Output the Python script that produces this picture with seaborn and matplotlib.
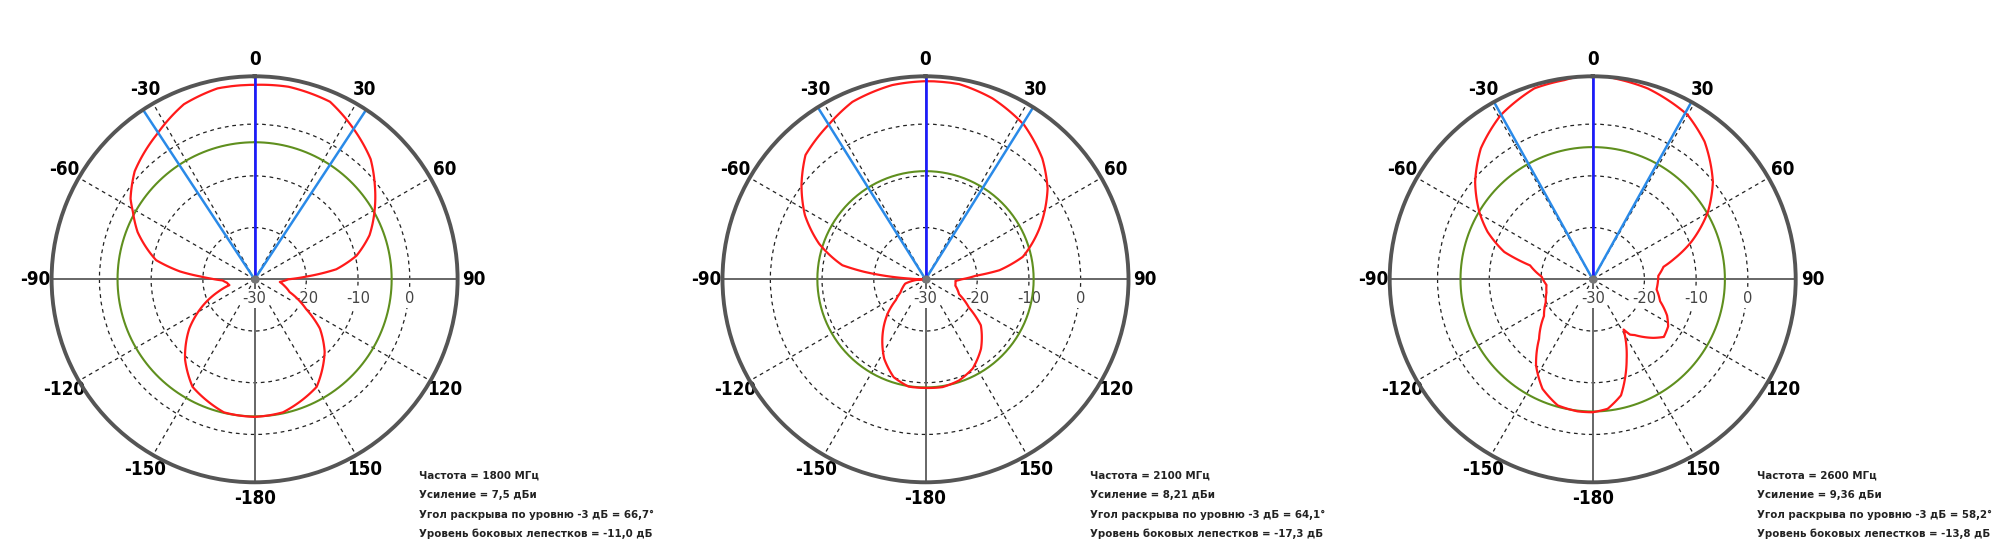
import numpy as np
import pandas as pd
import matplotlib
matplotlib.use("Agg")
import matplotlib.pyplot as plt
import seaborn as sns
from matplotlib.transforms import ScaledTranslation

# ---------------- data ----------------
freqs = [1800, 2100, 2600]
gains = [7.5, 8.21, 9.36]
hpbw = [66.7, 64.1, 58.2]
sll = [-11.0, -17.3, -13.8]

ang_1800 = [-180, -167, -150, -139, -127, -115, -109, -103, -97, -92, -89, -87, -84, -79,
            -68, -61, -57, -48, -34, -22, -11, 0, 10, 23, 33, 44, 52, 60, 69, 77, 83, 87,
            90, 96, 103, 110, 120, 127, 136, 150, 168, 180]
db_1800 = [-3.4, -3.6, -6.0, -9.5, -14.2, -19.7, -22.5, -25.0, -24.6, -23.8, -21.5, -19.5,
           -15.5, -10.6, -5.6, -3.1, -1.4, 1.2, 3.8, 6.5, 7.6, 7.6, 7.8, 7.3, 4.9, 2.3,
           -0.5, -3.2, -6.2, -9.8, -14.1, -20.0, -23.5, -25.1, -24.0, -22.8, -18.5,
           -14.2, -10.5, -6.0, -3.7, -3.4]

ang_2100 = [-180, -171, -162, -152.5, -144, -132, -125, -118, -110, -102, -95, -90, -87.5,
            -85, -83, -80.4, -71.5, -62, -52.8, -44, -31.9, -22.4, -9.7, 0, 9.8, 20.3,
            32.6, 44, 53.4, 66, 77, 83, 86, 90, 93, 102, 114, 123, 129.7, 141.4, 152,
            161.6, 171, 180]
db_2100 = [-9.0, -9.0, -10.1, -12.7, -15.8, -20.2, -23.0, -24.5, -25.3, -26.0, -28.0,
           -29.5, -27.0, -22.0, -18.0, -13.7, -8.3, -3.6, 0.1, 3.4, 5.3, 7.1, 8.1, 8.3,
           8.3, 7.3, 5.4, 2.5, -0.6, -5.9, -10.7, -15.6, -20.3, -23.0, -24.2, -24.1,
           -22.9, -20.0, -16.1, -12.8, -10.5, -9.4, -8.9, -9.0]

ang_2600 = [-180, -173.5, -164.5, -155.4, -146.6, -138, -127, -116, -106, -97, -87, -77.5,
            -72.8, -65.7, -59.3, -50.4, -40.5, -29.2, -17, -8.1, -3, 0, 4, 7.1, 16.1, 30,
            39.1, 51, 59.7, 69.2, 75.8, 80, 87, 99, 108, 116, 122, 129, 134, 143, 146,
            148.4, 150.3, 152, 157, 159.5, 166.3, 173.4, 180]
db_2600 = [-4.3, -4.3, -4.7, -6.7, -10.1, -14.5, -18.2, -19.9, -20.7, -21.0, -20.1, -17.6,
           -12.1, -7.7, -4.5, -0.5, 3.3, 6.4, 8.6, 8.9, 9.4, 9.5, 9.3, 9.0, 8.4, 6.7, 4.3,
           -0.1, -4.2, -9.6, -13.7, -16.1, -17.3, -17.5, -16.3, -14.0, -12.8, -12.3,
           -13.7, -16.5, -17.1, -18.6, -17.4, -16.3, -13.2, -11.5, -6.9, -4.8, -4.3]

patterns = [(ang_1800, db_1800), (ang_2100, db_2100), (ang_2600, db_2600)]

angle_ticks = [0, 30, 60, 90, 120, 150, 180, 210, 240, 270, 300, 330]
angle_labels = ["0", "30", "60", "90", "120", "150", "-180", "-150", "-120", "-90", "-60", "-30"]
ring_ticks = [-30, -20, -10, 0]
r_min, r_max = -30, 9.25

# ---------------- style ----------------
sns.set_style("white")
plt.rcParams["font.family"] = ["DejaVu Sans"]

RED = "#ff1a1a"
GREEN = "#5f8f1e"
BLUE = "#1a1aff"
LBLUE = "#2a8ae8"
GRAY = "#555555"

W, H = 2000, 560
R = 203
cy = 279.3
centers = [254.6, 925.5, 1592.7]

fig = plt.figure(figsize=(W / 100, H / 100), dpi=100)
fig.patch.set_facecolor("white")

full_circle = np.linspace(0, 2 * np.pi, 361)

for i, cx in enumerate(centers):
    ax = fig.add_axes([(cx - R) / W, (H - cy - R) / H, 2 * R / W, 2 * R / H],
                      projection="polar")
    ax.set_theta_zero_location("N")
    ax.set_theta_direction(-1)
    ax.set_ylim(r_min, r_max)
    ax.set_facecolor("white")

    # theta ticks / labels
    ax.set_xticks(np.deg2rad(angle_ticks))
    ax.set_xticklabels(angle_labels, fontfamily="DejaVu Sans", fontstretch="condensed",
                       fontweight="bold", fontsize=13.5, color="black")
    ax.tick_params(axis="x", pad=5, length=0)
    ax.xaxis.grid(False)

    # rings
    ax.set_yticks(ring_ticks[1:])
    ax.set_yticklabels([])
    ax.yaxis.grid(True, color="#222222", linestyle=(0, (3, 3)), linewidth=0.9)

    # radial grid lines
    tick_arr = np.array(angle_ticks)
    dashed = np.deg2rad(tick_arr[tick_arr % 90 != 0])
    solid = np.deg2rad(tick_arr[tick_arr % 90 == 0])
    ax.vlines(dashed, r_min, r_max, colors="#222222", linestyles=(0, (3, 3)),
              linewidth=0.9, zorder=1.2)
    ax.vlines(solid, r_min, r_max, colors="#666666", linewidth=1.4, zorder=1.3)

    # radial value labels with white background
    off = ScaledTranslation(0, -19 / 100, fig.dpi_scale_trans)
    for rv in ring_ticks:
        ax.text(np.deg2rad(90), rv, f"{rv}", transform=ax.transData + off,
                ha="center", va="center", fontsize=10.5, color="#444444",
                bbox=dict(boxstyle="square,pad=0.15", fc="white", ec="none"),
                zorder=1.8)

    # side-lobe level circle
    ax.plot(full_circle, np.full_like(full_circle, gains[i] + sll[i]),
            color=GREEN, linewidth=1.5, zorder=2.0)

    # pattern
    ang, db = patterns[i]
    df = pd.DataFrame({"theta": np.deg2rad(ang), "gain": db})
    sns.lineplot(data=df, x="theta", y="gain", sort=False, estimator=None,
                 color=RED, linewidth=1.6, ax=ax, zorder=2.1)
    pat_line = ax.lines[-1]
    pat_line.get_path()._interpolation_steps = 40   # draw segments as polar arcs
    ax.set_xlabel("")
    ax.set_ylabel("")

    # beam direction and half-power lines
    half = hpbw[i] / 2
    for a in (-half, half):
        ax.plot([np.deg2rad(a)] * 2, [r_min, r_max], color=LBLUE, linewidth=1.8, zorder=2.2)
    ax.plot([0, 0], [r_min, r_max], color=BLUE, linewidth=1.9, zorder=2.3)

    # pole marker
    ax.plot([0], [r_min], marker="o", markersize=5, color="#777777", zorder=2.4)

    ax.spines["polar"].set_color(GRAY)
    ax.spines["polar"].set_linewidth(2.8)

    # info text
    lines = [
        f"Частота = {freqs[i]} МГц",
        f"Усиление = {str(gains[i]).replace('.', ',')} дБи",
        f"Угол раскрыва по уровню -3 дБ = {hpbw[i]:.1f}°".replace(".", ","),
        f"Уровень боковых лепестков = {sll[i]:.1f} дБ".replace(".", ","),
    ]
    for k, line in enumerate(lines):
        fig.text((cx + 164) / W, 1 - (476 + k * 19.3) / H, line, ha="left", va="center",
                 fontsize=8.2, fontweight="bold", fontfamily="DejaVu Sans",
                 fontstretch="condensed", color="#222222")

fig.savefig("out.png", dpi=100, facecolor="white")
